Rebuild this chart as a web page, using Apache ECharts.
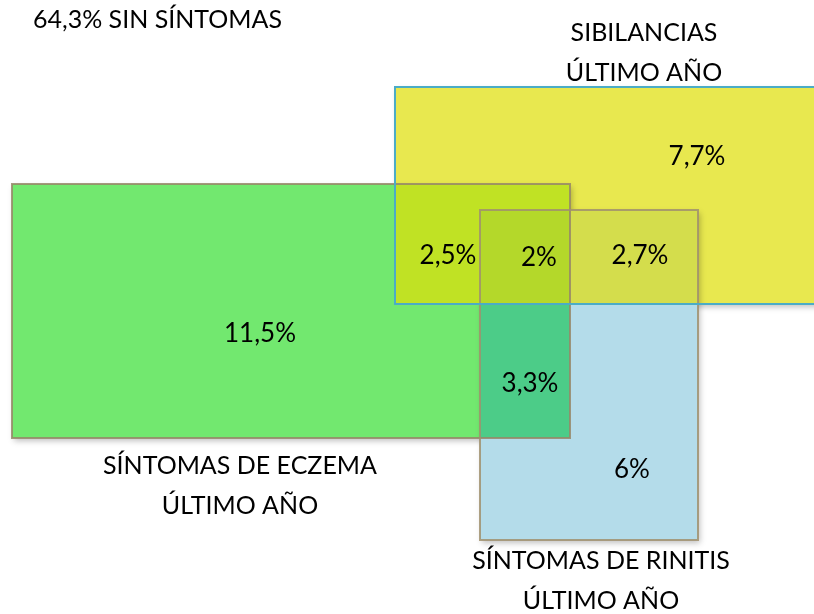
<!DOCTYPE html>
<html><head><meta charset="utf-8">
<script src="https://cdn.jsdelivr.net/npm/echarts@6/dist/echarts.min.js"></script>
<style>html,body{margin:0;padding:0;background:#fff}#c{width:814px;height:614px}</style>
</head><body><div id="c"></div>
<script>
// ---- Sets (diagram units) ----
const setNames = ['SIBILANCIAS\nÚLTIMO AÑO', 'SÍNTOMAS DE ECZEMA\nÚLTIMO AÑO', 'SÍNTOMAS DE RINITIS\nÚLTIMO AÑO'];
const setLeft = [395, 12, 480];
const setRight = [820, 570, 698];
const setTop = [87, 184, 210];
const setBottom = [304, 438, 540];
const setNameX = [644, 240, 601];
const setNameY = [53, 486, 581];
// ---- Region percentages ----
const regionLabels = ['7,7%', '11,5%', '6%', '2,5%', '2,7%', '3,3%', '2%'];
const regionX = [697, 260, 632, 448, 640, 530, 539];
const regionY = [157, 334, 470, 256, 256, 384, 258];
const noneLabel = '64,3% SIN SÍNTOMAS';
const noneX = 33, noneY = 20;

// styles
const setFill = ['#e8e84f', '#72e86f', '#b4dcea'];
const setBorder = ['#4bacc6', 'rgba(150,135,105,0.85)', 'rgba(160,145,110,0.85)'];
const overlapFill = {'0-1': '#c0e224', '0-2': '#d4dd4c', '1-2': '#4ccc88', '0-1-2': '#b4d82a'};
const FONT = 'Lato';

function inter(ids) {
  let l = -Infinity, r = Infinity, t = -Infinity, b = Infinity;
  ids.forEach(i => { l = Math.max(l, setLeft[i]); r = Math.min(r, setRight[i]); t = Math.max(t, setTop[i]); b = Math.min(b, setBottom[i]); });
  return [l, t, r, b];
}
const baseData = setLeft.map((_, i) => [setLeft[i], setTop[i], setRight[i], setBottom[i], i]);
const overlapKeys = ['0-1', '0-2', '1-2', '0-1-2'];
const overlapData = overlapKeys.map(k => { const r = inter(k.split('-').map(Number)); return r.concat([k]); });

function rectShape(api) {
  const p0 = api.coord([api.value(0), api.value(1)]);
  const p1 = api.coord([api.value(2), api.value(3)]);
  return {x: p0[0], y: p0[1], width: p1[0] - p0[0], height: p1[1] - p0[1]};
}

const textData = [];
regionLabels.forEach((t, i) => textData.push([regionX[i], regionY[i], t, 'center', 26]));
setNames.forEach((t, i) => textData.push([setNameX[i], setNameY[i], t, 'center', 25]));
textData.push([noneX, noneY, noneLabel, 'left', 25]);

const chart = echarts.init(document.getElementById('c'), null, {renderer: 'canvas'});
chart.setOption({
  animation: false,
  grid: {left: 0, right: 0, top: 0, bottom: 0},
  xAxis: {type: 'value', min: 0, max: 814, show: false},
  yAxis: {type: 'value', min: 0, max: 614, inverse: true, show: false},
  series: [
    {
      type: 'custom', clip: false, z: 1,
      data: baseData,
      renderItem: (params, api) => {
        const i = api.value(4);
        return {type: 'rect', shape: rectShape(api), style: {fill: setFill[i], shadowBlur: 6, shadowOffsetX: 2, shadowOffsetY: 3, shadowColor: 'rgba(0,0,0,0.25)'}};
      }
    },
    {
      type: 'custom', clip: false, z: 2,
      data: overlapData,
      dimensions: ['x0', 'y0', 'x1', 'y1', {name: 'k', type: 'ordinal'}],
      renderItem: (params, api) => {
        const k = overlapData[params.dataIndex][4];
        return {type: 'rect', shape: rectShape(api), style: {fill: overlapFill[k]}};
      }
    },
    {
      type: 'custom', clip: false, z: 3,
      data: [baseData[1], baseData[2], baseData[0]],
      renderItem: (params, api) => {
        const i = api.value(4);
        const s = rectShape(api);
        return {type: 'rect', shape: s, style: {fill: 'none', stroke: setBorder[i], lineWidth: 2}};
      }
    },
    {
      type: 'custom', clip: false, z: 4,
      data: textData,
      dimensions: ['x', 'y', {name: 't', type: 'ordinal'}, {name: 'a', type: 'ordinal'}, 'fs'],
      renderItem: (params, api) => {
        const d = textData[params.dataIndex];
        const p = api.coord([d[0], d[1]]);
        return {type: 'text', x: p[0], y: p[1], style: {text: d[2], align: d[3], verticalAlign: 'middle', fontSize: d[4], fontFamily: FONT, fill: '#000', lineHeight: 40}};
      }
    }
  ]
});
</script></body></html>
